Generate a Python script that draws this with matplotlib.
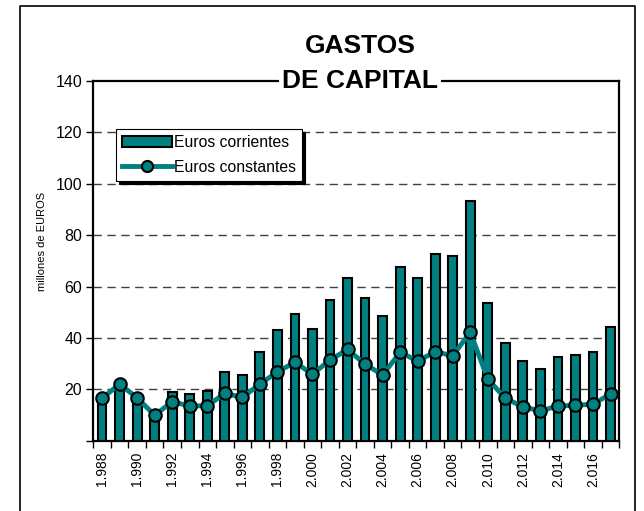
import matplotlib
matplotlib.use("Agg")
import matplotlib.pyplot as plt
from matplotlib.lines import Line2D
from matplotlib.patches import Patch
import numpy as np

plt.rcParams['font.family'] = ['Liberation Sans', 'DejaVu Sans']

years = list(range(1988, 2018))
corrientes = [16, 21.5, 17, 9.5, 19.1, 18.2, 19.5, 26.8, 25.4, 34.4, 43.1, 49.3, 43.6, 54.8, 63.2,
              55.4, 48.4, 67.7, 63.2, 72.6, 71.8, 93.3, 53.7, 37.9, 31.1, 27.9, 32.7, 33.4, 34.4, 44.2]
constantes = [16.5, 22.0, 16.7, 9.9, 15.2, 13.5, 13.6, 18.4, 16.9, 22.0, 26.8, 30.5, 25.9, 31.4, 35.5,
              29.8, 25.6, 34.4, 31.0, 34.6, 33.1, 42.2, 24.0, 16.5, 13.2, 11.6, 13.5, 13.8, 14.2, 18.2]
tick_labels = ["1.988", "1.990", "1.992", "1.994", "1.996", "1.998", "2.000", "2.002", "2.004",
               "2.006", "2.008", "2.010", "2.012", "2.014", "2.016"]

teal = '#008080'
W, H = 644, 511
fig = plt.figure(figsize=(W / 100, H / 100), dpi=100)
ax = fig.add_axes([93.3 / W, 1 - 440.7 / H, (619.3 - 93.3) / W, (440.7 - 81) / H])

x = np.arange(len(years))
ax.bar(x, corrientes, width=0.5, color=teal, edgecolor='black', linewidth=1.5, zorder=3)
ax.plot(x, constantes, color=teal, linewidth=3.5, marker='o', markersize=9,
        markerfacecolor=teal, markeredgecolor='black', markeredgewidth=1.5, zorder=4)

ax.set_xlim(-0.5, len(years) - 0.5)
ax.set_ylim(0, 140)
ax.set_yticks(np.arange(0, 141, 20))
ax.set_yticklabels([''] + [str(v) for v in range(20, 141, 20)], fontsize=11.5)
ax.tick_params(axis='y', direction='out', length=5, width=1, pad=3)

ax.set_xticks(x[::2])
ax.set_xticklabels(tick_labels, rotation=90, fontsize=10)
ax.tick_params(axis='x', which='major', length=0, pad=8)
ax.set_xticks(np.arange(-0.5, len(years), 1), minor=True)
ax.tick_params(axis='x', which='minor', direction='out', length=5, width=1)

for v in range(20, 140, 20):
    ax.axhline(v, color='#404040', linestyle=(0, (6, 4)), linewidth=1, zorder=1)

for s in ax.spines.values():
    s.set_linewidth(1.6)
    s.set_color('black')

ax.set_ylabel('millones de EUROS', fontsize=8)
ax.yaxis.set_label_coords(-0.088, 0.555)

handles = [Patch(facecolor=teal, edgecolor='black', linewidth=1.5),
           Line2D([0], [0], color=teal, linewidth=3.5, marker='o', markersize=8,
                  markerfacecolor=teal, markeredgecolor='black', markeredgewidth=1.5)]
leg = ax.legend(handles, ['Euros corrientes', 'Euros constantes'], loc='upper left',
                bbox_to_anchor=(0.043, 0.866), fontsize=11.3, frameon=True, fancybox=False,
                shadow={'color': 'black', 'alpha': 1}, framealpha=1, edgecolor='black',
                handlelength=3.2, handletextpad=0.1, borderpad=0.4, labelspacing=0.6,
                borderaxespad=0)
leg.get_frame().set_linewidth(0.8)
leg.set_zorder(10)

ax.text(0.507, 1.0, 'DE CAPITAL', transform=ax.transAxes, ha='center', va='center',
        fontsize=19, fontweight='bold', zorder=20, clip_on=False,
        bbox=dict(facecolor='white', edgecolor='none', pad=2))
ax.text(0.507, 1.098, 'GASTOS', transform=ax.transAxes, ha='center', va='center',
        fontsize=19, fontweight='bold', clip_on=False)

# outer frame
fx0, fx1, fy1 = 20 / W, 635 / W, 1 - 6 / H
fig.add_artist(Line2D([fx0, fx0, fx1, fx1], [-0.01, fy1, fy1, -0.01], color='black',
                      linewidth=1.2, transform=fig.transFigure))

fig.savefig('out.png', dpi=100)
